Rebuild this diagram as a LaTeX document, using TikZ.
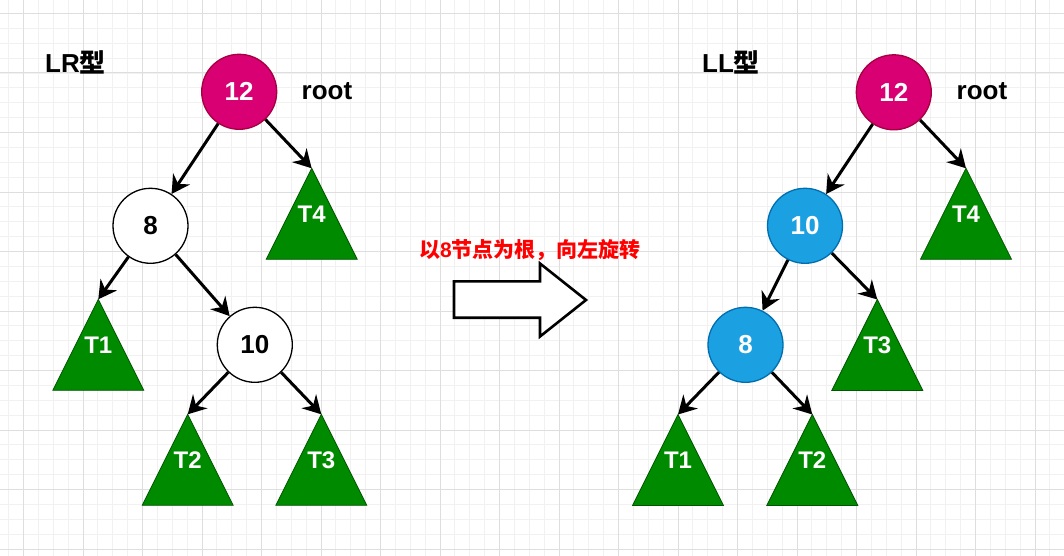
\documentclass[tikz,border=0pt]{standalone}
\usepackage{fontspec}
\setmainfont{Liberation Sans}
\newfontfamily\cjk{Noto Sans CJK SC}
\usetikzlibrary{arrows.meta}
\definecolor{magentaf}{HTML}{D80073}
\definecolor{magentad}{HTML}{A50040}
\definecolor{bluef}{HTML}{1BA1E2}
\definecolor{blued}{HTML}{006EAF}
\definecolor{greenf}{HTML}{008A00}
\definecolor{greend}{HTML}{005700}
\definecolor{gridmajor}{HTML}{DEDEDE}
\definecolor{gridminor}{HTML}{F1F1F1}
\newcommand\gtri[4]{%
  \filldraw[tri] (#2,#3) -- ++(-45.5,91) -- ++(91,0) -- cycle;
  \coordinate (#1) at (#2,#3);
  \node[trilabel] (#1l) at (#2,#3+46) {#4};
}
\begin{document}
\begin{tikzpicture}[x=1pt,y=-1pt,
  circ/.style={circle, minimum size=75pt, inner sep=0pt, line width=1.3pt, font=\fontsize{26}{30}\selectfont\bfseries},
  redn/.style={circ, fill=magentaf, draw=magentad, text=white},
  bluen/.style={circ, fill=bluef, draw=blued, text=white},
  whiten/.style={circ, fill=white, draw=black, text=black},
  tri/.style={fill=greenf, draw=greend, line width=0.8pt},
  trilabel/.style={text=white, font=\fontsize{24}{28}\selectfont\bfseries, inner sep=0pt},
  edge/.style={line width=3pt, -{Stealth[length=18pt,width=20pt,inset=6pt]}},
  title/.style={font=\fontsize{26}{30}\selectfont\bfseries, inner sep=0pt},
  minorline/.style={gridminor, line width=0.9pt},
  majorline/.style={gridmajor, line width=1pt},
]
\useasboundingbox (0,0) rectangle (1064,556);
\fill[white] (0,0) rectangle (1064,556);
\begin{scope}
\clip (0,0) rectangle (1064,556);
\foreach \i in {-2,...,71} {\draw[minorline] ({23.5+\i*14.875},0) -- ++(0,556);}
\foreach \i in {-1,...,37} {\draw[minorline] (0,{13.5+\i*14.875}) -- ++(1064,0);}
\foreach \i in {0,...,17} {\draw[majorline] ({23.5+\i*59.5},0) -- ++(0,556);}
\foreach \i in {0,...,9} {\draw[majorline] (0,{13.5+\i*59.5}) -- ++(1064,0);}
\end{scope}

% titles
\node[title] (lrt) at (75.5,62) {LR{\cjk 型}};
\node[title] (llt) at (731,62) {LL{\cjk 型}};
\node[title] (rootl) at (327,91) {root};
\node[title] (rootr) at (982,91) {root};

% left tree
\node[redn] (L12) at (239.2,91.8) {12};
\node[whiten] (L8) at (150.5,225.8) {8};
\node[whiten] (L10) at (254.8,344.8) {10};
\gtri{T4L}{311.7}{168.3}{T4}
\gtri{T1L}{98.3}{299.3}{T1}
\gtri{T2L}{187.7}{414.3}{T2}
\gtri{T3L}{321.3}{414.3}{T3}
\draw[edge] (L12) -- (L8);
\draw[edge] (L12) -- (T4L);
\draw[edge] (L8) -- (T1L);
\draw[edge] (L8) -- (L10);
\draw[edge] (L10) -- (T2L);
\draw[edge] (L10) -- (T3L);

% right tree
\node[redn] (R12) at (893.8,92.3) {12};
\node[bluen] (R10) at (805,225.8) {10};
\node[bluen] (R8) at (745.5,344.8) {8};
\gtri{T4R}{966}{168.3}{T4}
\gtri{T3R}{877.3}{299.5}{T3}
\gtri{T1R}{678}{414.5}{T1}
\gtri{T2R}{812.3}{414.5}{T2}
\draw[edge] (R12) -- (R10);
\draw[edge] (R12) -- (T4R);
\draw[edge] (R10) -- (R8);
\draw[edge] (R10) -- (T3R);
\draw[edge] (R8) -- (T1R);
\draw[edge] (R8) -- (T2R);

% rotation arrow and caption
\node[text=red, font=\fontsize{21}{25}\selectfont\bfseries, inner sep=0pt] (cap) at (530,250)
  {{\cjk 以}8{\cjk 节点为根，向左旋转}};
\draw[line width=2.6pt, fill=white, line join=miter]
  (454,281.3) -- (540,281.3) -- (540,263.5) -- (586,300) -- (540,336.5) -- (540,317.7) -- (454,317.7) -- cycle;
\end{tikzpicture}
\end{document}
